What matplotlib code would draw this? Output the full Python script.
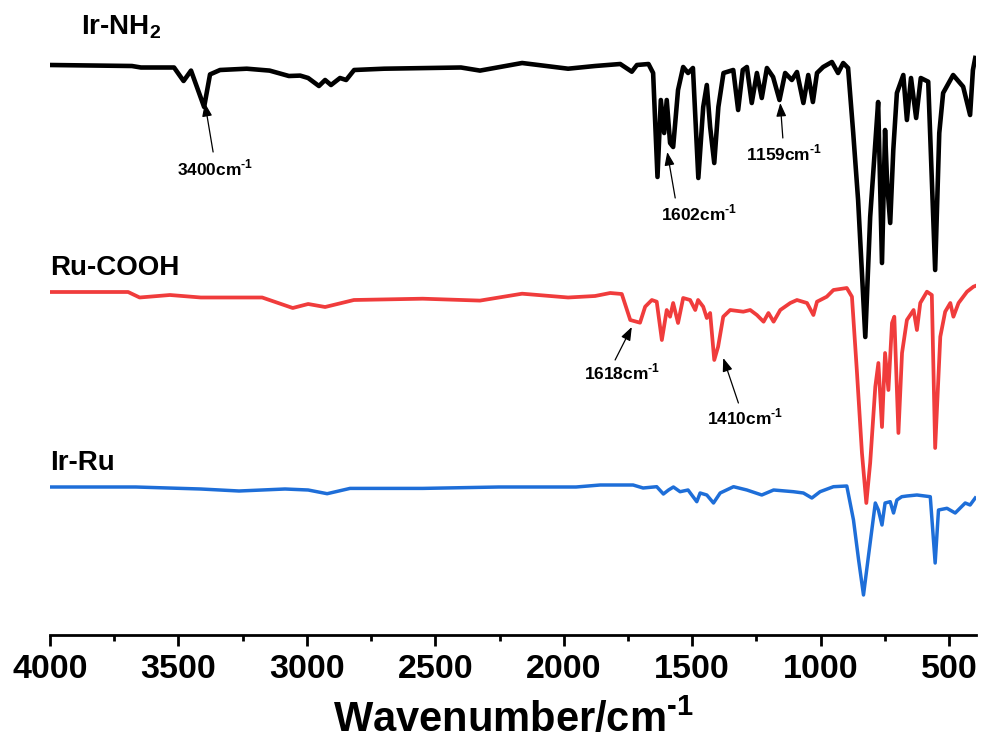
import matplotlib
matplotlib.use("Agg")
import matplotlib.pyplot as plt
from matplotlib.ticker import MultipleLocator

# ---------------- data ----------------
# wavenumber (cm-1) and relative signal (a.u., 0 = start of trace, dips negative)
ir_nh2_wn = [4000, 3681, 3646, 3517, 3480, 3451, 3400, 3377, 3338, 3234, 3145, 3070,
             3026, 2995, 2953, 2929, 2906, 2871, 2847, 2816, 2699, 2400, 2326, 2162,
             1983, 1878, 1780, 1735, 1715, 1670, 1652, 1635, 1622, 1609, 1599, 1586,
             1574, 1555, 1535, 1516, 1497, 1476, 1457, 1443, 1430, 1414, 1398, 1378,
             1340, 1321, 1303, 1287, 1268, 1248, 1229, 1209, 1185, 1160, 1138, 1112,
             1092, 1067, 1048, 1030, 1014, 990, 956, 932, 912, 893, 873, 854, 826,
             807, 787, 776, 761, 749, 741, 729, 717, 703, 678, 664, 648, 628, 610,
             581, 554, 538, 523, 484, 445, 418, 407, 398]
ir_nh2_val = [0, -1, -2.5, -2.5, -16, -5.6, -42, -9.4, -5, -3.7, -5.6, -11,
              -10.6, -13, -21, -15, -20, -13, -15, -5, -3.7, -2.5, -5.6, 2,
              -3.7, -1, 1, -6.7, 0, 1, -8, -112, -35, -68, -35, -78,
              -82, -25, -2, -8, -3, -113, -42, -20, -62, -98, -42, -8,
              -5, -45, -5, -2, -38, -8, -33, -3, -12, -35, -8, -15,
              -7, -38, -10, -37, -8, -2, 3, -8, 2, -3, -68, -135, -272,
              -152, -78, -37, -198, -65, -118, -158, -85, -28, -10, -55, -13, -53, -13,
              -16.7, -205, -68, -28, -10, -21.7, -50, -5, 7]

ru_cooh_wn = [4000, 3696, 3651, 3533, 3413, 3174, 3055, 2995, 2929, 2817, 2549, 2326,
              2162, 1983, 1878, 1819, 1774, 1741, 1703, 1683, 1657, 1638, 1618, 1599,
              1586, 1574, 1555, 1535, 1508, 1488, 1477, 1457, 1443, 1430, 1414, 1399,
              1379, 1352, 1301, 1274, 1248, 1222, 1203, 1183, 1157, 1118, 1092, 1053,
              1028, 1014, 976, 950, 898, 878, 859, 839, 822, 807, 787, 775, 761, 749,
              736, 722, 713, 697, 683, 664, 638, 625, 612, 586, 567, 554, 534, 515,
              495, 483, 463, 430, 405, 398]
ru_cooh_val = [0, 0, -5.5, -3, -5.5, -5.5, -16, -12, -15, -8, -6.7, -8.6,
               -1.7, -5.5, -4, -1, -2, -28, -30.7, -14.7, -8, -9.7, -48, -18,
               -24.7, -11, -31, -6, -8, -18, -8, -14.7, -26, -21, -68, -54.7,
               -24.7, -18, -19.7, -18, -23, -29.7, -21, -29.7, -18, -11, -8, -11,
               -23, -9.7, -4.7, 2, 4, -4.7, -78, -161, -211, -171, -94.7, -71, -135, -61,
               -98, -31, -24.7, -141, -61, -28, -18, -38, -11, 0.3, -3, -156, -44.7, -19.7,
               -11, -24.7, -11, 0.3, 5.3, 6]

ir_ru_wn = [4000, 3666, 3413, 3264, 3085, 2995, 2921, 2832, 2549, 2252, 1952, 1858,
            1730, 1691, 1638, 1612, 1592, 1573, 1547, 1516, 1482, 1469, 1443, 1417,
            1391, 1339, 1287, 1229, 1183, 1106, 1067, 1034, 1002, 950, 898, 872, 852,
            833, 814, 787, 775, 761, 749, 729, 716, 703, 684, 664, 625, 573, 554, 541,
            508, 476, 437, 418, 398]
ir_ru_val = [0, 0, -2, -4, -2, -3, -6.7, -1.4, -1.4, 0, 0, 2,
             2, -1, 0.3, -7, -3, 0, -4.7, -3, -14.7, -6, -8, -16,
             -6, 0.3, -3, -8, -3, -4.7, -6, -11, -4.7, 0.3, 1, -33, -73,
             -108, -69.7, -16, -23, -38, -16, -14.7, -26, -13, -9.7, -9, -8, -9.7, -76, -23,
             -21.3, -26, -16, -18, -11]

series_names = ["Ir-NH$_2$", "Ru-COOH", "Ir-Ru"]
series_colors = ["#000000", "#F03C3C", "#1E6ED8"]

peak_labels = ["3400", "1602", "1159", "1618", "1410"]
tick_values = [4000, 3500, 3000, 2500, 2000, 1500, 1000, 500]

# ---------------- fonts ----------------
plt.rcParams["mathtext.fontset"] = "custom"
plt.rcParams["mathtext.rm"] = "Liberation Sans:bold"
plt.rcParams["font.family"] = ["Liberation Sans", "DejaVu Sans"]
plt.rcParams["font.weight"] = "bold"

# ---------------- figure ----------------
fig = plt.figure(figsize=(9.81, 7.5), dpi=100)
ax = fig.add_axes([50 / 981, 115 / 750, 926 / 981, 630 / 750])

offsets = [575, 348, 153]
widths = [3.3, 2.7, 2.5]
data = [(ir_nh2_wn, ir_nh2_val), (ru_cooh_wn, ru_cooh_val), (ir_ru_wn, ir_ru_val)]
for (wn, val), off, col, lw in zip(data, offsets, series_colors, widths):
    ax.plot(wn, [v + off for v in val], color=col, lw=lw, solid_joinstyle="round")

ax.set_xlim(4000, 395)
ax.set_ylim(5, 635)

for s in ["top", "right", "left"]:
    ax.spines[s].set_visible(False)
ax.spines["bottom"].set_linewidth(2.0)
ax.set_yticks([])
ax.set_xticks(tick_values)
ax.xaxis.set_minor_locator(MultipleLocator(250))
ax.tick_params(axis="x", which="major", direction="out", length=8, width=2.0, pad=6,
               labelsize=24.5)
ax.tick_params(axis="x", which="minor", direction="out", length=4.5, width=2.0)
for lab in ax.get_xticklabels():
    lab.set_fontweight("bold")

ax.set_xlabel(r"Wavenumber/cm$^{\text{-1}}$", fontweight="bold", fontsize=30, labelpad=10)

# series names
name_pos = [(3880, 613), (4000, 372), (4000, 177)]
for name, (x, y) in zip(series_names, name_pos):
    ax.text(x, y, name, fontsize=20, fontweight="bold", ha="left", va="center")

# peak annotations: (tip, tail, text centre) in data coordinates
ann = [((3397, 537), (3365, 488), (3357, 472)),
       ((1597, 488), (1566, 442), (1473, 427)),
       ((1157, 537), (1147, 502), (1142, 487)),
       ((1735, 313), (1800, 280), (1773, 268)),
       ((1379, 282), (1320, 237), (1294, 223))]
for lab, (tip, tail, txt) in zip(peak_labels, ann):
    ax.annotate("", xy=tip, xytext=tail,
                arrowprops=dict(arrowstyle="-|>,head_length=0.8,head_width=0.3",
                                color="black", lw=0.9, shrinkA=0, shrinkB=0))
    ax.text(txt[0], txt[1], lab + r"cm$^{\text{-1}}$", fontsize=12.5, fontweight="bold",
            ha="center", va="center")

fig.savefig("out.png", dpi=100)
